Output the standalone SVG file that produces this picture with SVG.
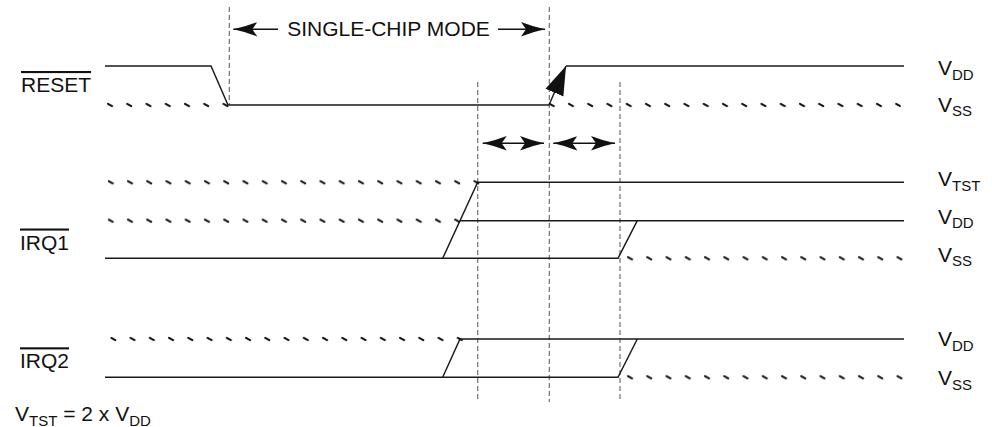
<svg xmlns="http://www.w3.org/2000/svg" width="992" height="427" viewBox="0 0 992 427">
<style>
 .t{font-family:"Liberation Sans",Arial,sans-serif;font-size:21px;fill:#111}
 .s{font-size:15px}
 .o{text-decoration:overline}
 .w{fill:none;stroke:#1a1a1a;stroke-width:1.45}
 .g{fill:none;stroke:#707070;stroke-width:1.2;stroke-dasharray:5 3}
 .d{stroke:none;fill:url(#ticks)}
 .a1{fill:none;stroke:#111;stroke-width:1.4;marker-end:url(#ah)}
 .a2{fill:none;stroke:#111;stroke-width:1.4;marker-start:url(#ah);marker-end:url(#ah)}
</style>
<defs>
 <pattern id="ticks" patternUnits="userSpaceOnUse" x="-3" y="-3" width="19.25" height="6">
  <line x1="1" y1="1.9" x2="5" y2="4.1" stroke="#111" stroke-width="2.1" stroke-linecap="round"/>
 </pattern>
 <marker id="ah" markerUnits="userSpaceOnUse" orient="auto-start-reverse" markerWidth="26" markerHeight="16" refX="24" refY="8" viewBox="0 0 26 16">
  <path d="M24,8 Q12,5.5 0,0.8 L5,8 L0,15.2 Q12,10.5 24,8 Z" fill="#111"/>
 </marker>
 <marker id="bh" markerUnits="userSpaceOnUse" orient="auto" markerWidth="30" markerHeight="20" refX="29" refY="9.75" viewBox="0 0 30 19.5">
  <path d="M29,9.75 L0,0 L0,19.5 Z" fill="#111"/>
 </marker>
</defs>

<g id="guides">
 <line class="g" x1="229.3" y1="7" x2="229.3" y2="105"/>
 <line class="g" x1="549.3" y1="7" x2="549.3" y2="402"/>
 <line class="g" x1="477.7" y1="82" x2="477.7" y2="402"/>
 <line class="g" x1="620" y1="82" x2="620" y2="402"/>
</g>

<g id="reset">
 <text class="t o" x="21" y="92">RESET</text>
 <path class="w" d="M105,66 H211 L228,105 H549"/>
 <path class="w" d="M566,66 H904"/>
 <line class="w" x1="549" y1="105" x2="566" y2="66" marker-end="url(#bh)"/>
 <rect class="d" x="-3" y="-3" width="122" height="6" transform="translate(110,105)"/>
 <rect class="d" x="-3" y="-3" width="352" height="6" transform="translate(551.7,105)"/>
 <text class="t" x="938" y="75">V<tspan class="s" dy="4.5">DD</tspan></text>
 <text class="t" x="938" y="111.7">V<tspan class="s" dy="4.5">SS</tspan></text>
</g>

<g id="irq1">
 <text class="t o" x="20" y="249.5">IRQ1</text>
 <path class="w" d="M105,258.3 H618 L637.3,220.7"/>
 <path class="w" d="M442.7,258.3 L477.7,182.3 H904"/>
 <path class="w" d="M460,220.7 H904"/>
 <rect class="d" x="-3" y="-3" width="372" height="6" transform="translate(110.7,182.3)"/>
 <rect class="d" x="-3" y="-3" width="353" height="6" transform="translate(110.7,220.7)"/>
 <rect class="d" x="-3" y="-3" width="276" height="6" transform="translate(630,258.3)"/>
 <text class="t" x="938" y="186">V<tspan class="s" dy="4.5">TST</tspan></text>
 <text class="t" x="938" y="223.5">V<tspan class="s" dy="4.5">DD</tspan></text>
 <text class="t" x="938" y="261.7">V<tspan class="s" dy="4.5">SS</tspan></text>
</g>

<g id="irq2">
 <text class="t o" x="20" y="368.3">IRQ2</text>
 <path class="w" d="M105,377.3 H618 L637.3,339"/>
 <path class="w" d="M442.7,377.3 L460,339 H904"/>
 <rect class="d" x="-3" y="-3" width="353" height="6" transform="translate(113.3,339)"/>
 <rect class="d" x="-3" y="-3" width="276" height="6" transform="translate(630,377.3)"/>
 <text class="t" x="938" y="346">V<tspan class="s" dy="4.5">DD</tspan></text>
 <text class="t" x="938" y="385">V<tspan class="s" dy="4.5">SS</tspan></text>
</g>

<g id="connectors">
 <line class="a1" x1="278" y1="29.3" x2="233.3" y2="29.3"/>
 <line class="a1" x1="498" y1="29.3" x2="545" y2="29.3"/>
 <line class="a2" x1="482.7" y1="143.3" x2="544" y2="143.3"/>
 <line class="a2" x1="553.3" y1="143.3" x2="615" y2="143.3"/>
</g>

<g id="labels">
 <text class="t" x="388.5" y="36" text-anchor="middle">SINGLE-CHIP MODE</text>
 <text class="t" x="15" y="421">V<tspan class="s" dy="4.5">TST</tspan><tspan dy="-4.5"> = 2 x V</tspan><tspan class="s" dy="4.5">DD</tspan></text>
</g>
</svg>
